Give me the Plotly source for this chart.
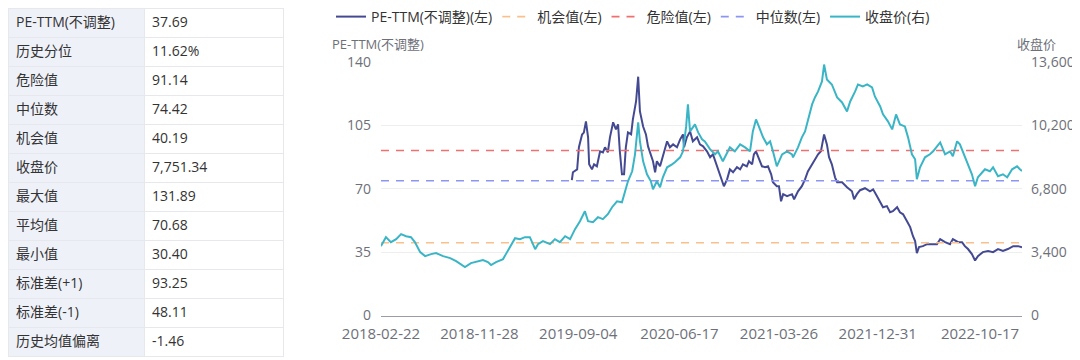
import plotly.graph_objects as go

# ---------------- data ----------------
table_labels = ["PE-TTM(不调整)", "历史分位", "危险值", "中位数", "机会值", "收盘价",
                "最大值", "平均值", "最小值", "标准差(+1)", "标准差(-1)", "历史均值偏离"]
table_values = ["37.69", "11.62%", "91.14", "74.42", "40.19", "7,751.34",
                "131.89", "70.68", "30.40", "93.25", "48.11", "-1.46"]

danger_value = 91.14
median_value = 74.42
chance_value = 40.19

x_tick_dates = ["2018-02-22", "2018-11-28", "2019-09-04", "2020-06-17",
                "2021-03-26", "2021-12-31", "2022-10-17"]
left_ticks = [0, 35, 70, 105, 140]
right_ticks = [0, 3400, 6800, 10200, 13600]

close_dates = [
    "2018-02-22", "2018-03-08", "2018-03-22", "2018-04-06", "2018-04-20", "2018-05-04",
    "2018-05-18", "2018-05-29", "2018-06-13", "2018-06-27", "2018-07-14", "2018-07-28",
    "2018-08-17", "2018-09-06", "2018-09-23", "2018-10-12", "2018-10-18", "2018-11-04",
    "2018-11-24", "2018-12-08", "2018-12-22", "2018-12-31", "2019-01-14", "2019-02-03",
    "2019-02-11", "2019-02-26", "2019-03-09", "2019-03-23", "2019-04-06", "2019-04-20",
    "2019-05-05", "2019-05-13", "2019-05-27", "2019-06-16", "2019-06-30", "2019-07-14",
    "2019-07-29", "2019-08-12", "2019-08-26", "2019-09-09", "2019-09-23", "2019-10-02",
    "2019-10-16", "2019-10-30", "2019-11-13", "2019-11-27", "2019-12-09", "2019-12-23",
    "2020-01-06", "2020-01-15", "2020-01-23", "2020-02-04", "2020-02-12", "2020-02-21",
    "2020-02-26", "2020-03-06", "2020-03-17", "2020-03-28", "2020-04-03", "2020-04-14",
    "2020-04-23", "2020-05-01", "2020-05-13", "2020-05-27", "2020-06-04", "2020-06-19",
    "2020-06-27", "2020-07-06", "2020-07-11", "2020-07-17", "2020-07-31", "2020-08-09",
    "2020-08-20", "2020-08-28", "2020-09-12", "2020-09-26", "2020-10-04", "2020-10-18",
    "2020-11-07", "2020-11-21", "2020-12-06", "2020-12-20", "2021-01-03", "2021-01-11",
    "2021-01-20", "2021-01-28", "2021-02-09", "2021-02-20", "2021-03-01", "2021-03-09",
    "2021-03-15", "2021-03-20", "2021-04-04", "2021-04-18", "2021-05-02", "2021-05-05",
    "2021-05-19", "2021-05-30", "2021-06-08", "2021-06-16", "2021-06-28", "2021-07-06",
    "2021-07-15", "2021-07-26", "2021-08-01", "2021-08-09", "2021-08-23", "2021-09-07",
    "2021-09-21", "2021-10-05", "2021-10-14", "2021-10-28", "2021-11-05", "2021-11-19",
    "2021-12-01", "2021-12-15", "2021-12-23", "2022-01-07", "2022-01-15", "2022-01-29",
    "2022-02-10", "2022-02-21", "2022-03-04", "2022-03-18", "2022-03-27", "2022-04-07",
    "2022-04-16", "2022-04-21", "2022-04-30", "2022-05-14", "2022-05-28", "2022-06-06",
    "2022-06-26", "2022-07-10", "2022-07-24", "2022-08-01", "2022-08-13", "2022-08-21",
    "2022-09-04", "2022-09-13", "2022-09-24", "2022-10-03", "2022-10-11", "2022-10-31",
    "2022-11-14", "2022-11-23", "2022-12-07", "2022-12-21", "2023-01-02", "2023-01-16",
    "2023-01-30", "2023-02-07", "2023-02-13",
]
close_values = [
    3721, 4203, 3935, 4096, 4364, 4256,
    4203, 3935, 3400, 3186, 3293, 3346,
    3186, 3079, 2918, 2650, 2597, 2811,
    2918, 2971, 2864, 2704, 2864, 3025,
    3293, 3828, 4149, 4096, 4203, 4203,
    3560, 3828, 3989, 3828, 4096, 3935,
    4256, 4096, 4631, 5060, 5595, 5060,
    5006, 5274, 5167, 5434, 5809, 6130,
    6077, 6666, 7201, 7737, 8647, 10360,
    9343, 8272, 7576, 7201, 6773, 7201,
    6880, 7415, 7951, 8111, 8218, 8486,
    8807, 10146, 11324, 9878, 10253, 9824,
    9450, 9343, 8914, 8647, 8807, 8272,
    9021, 8807, 9182, 9021, 8807, 9878,
    10521, 10146, 9557, 9182, 9343, 8807,
    8272, 8004, 8647, 8807, 8647, 8486,
    9021, 9557, 9878, 10414, 11324, 11698,
    12020, 12555, 13465, 12662, 12395, 11698,
    11430, 10949, 11484, 12020, 12395, 12287,
    12395, 12234, 11752, 11216, 10788, 10414,
    9985, 10788, 10253, 10146, 9557, 8647,
    8379, 7308, 7951, 8486, 8647, 8807,
    9289, 8647, 8807, 8540, 9343, 9182,
    8486, 8111, 7576, 6933, 7415, 7844,
    7737, 7951, 7469, 7576, 7415, 7844,
    8004, 7844, 7751.34,
]

pe_dates = [
    "2019-08-17", "2019-08-20", "2019-09-01", "2019-09-06", "2019-09-15", "2019-09-20",
    "2019-09-26", "2019-10-02", "2019-10-05", "2019-10-13", "2019-10-19", "2019-10-27",
    "2019-11-05", "2019-11-13", "2019-11-19", "2019-11-27", "2019-12-03", "2019-12-12",
    "2019-12-20", "2019-12-26", "2019-12-31", "2020-01-06", "2020-01-12", "2020-01-17",
    "2020-01-23", "2020-02-01", "2020-02-06", "2020-02-15", "2020-02-21", "2020-02-26",
    "2020-03-06", "2020-03-14", "2020-03-20", "2020-03-28", "2020-04-03", "2020-04-09",
    "2020-04-14", "2020-04-23", "2020-05-01", "2020-05-13", "2020-05-21", "2020-05-30",
    "2020-06-10", "2020-06-19", "2020-06-27", "2020-06-30", "2020-07-08", "2020-07-17",
    "2020-07-25", "2020-08-06", "2020-08-14", "2020-08-23", "2020-09-03", "2020-09-12",
    "2020-09-20", "2020-10-01", "2020-10-07", "2020-10-16", "2020-10-21", "2020-10-30",
    "2020-11-07", "2020-11-16", "2020-11-27", "2020-12-06", "2020-12-14", "2020-12-25",
    "2020-12-31", "2021-01-09", "2021-01-14", "2021-01-20", "2021-01-26", "2021-02-06",
    "2021-02-15", "2021-02-23", "2021-03-04", "2021-03-09", "2021-03-20", "2021-03-26",
    "2021-04-01", "2021-04-07", "2021-04-18", "2021-05-02", "2021-05-08", "2021-05-19",
    "2021-05-30", "2021-06-08", "2021-06-16", "2021-06-28", "2021-07-06", "2021-07-15",
    "2021-07-23", "2021-08-01", "2021-08-09", "2021-08-15", "2021-08-23", "2021-09-01",
    "2021-09-07", "2021-09-21", "2021-10-05", "2021-10-19", "2021-10-25", "2021-11-02",
    "2021-11-11", "2021-11-25", "2021-12-09", "2021-12-18", "2021-12-29", "2022-01-07",
    "2022-01-15", "2022-01-26", "2022-02-04", "2022-02-12", "2022-02-24", "2022-03-04",
    "2022-03-13", "2022-03-24", "2022-04-02", "2022-04-10", "2022-04-16", "2022-04-21",
    "2022-04-27", "2022-05-08", "2022-05-20", "2022-06-03", "2022-06-17", "2022-06-26",
    "2022-07-10", "2022-07-24", "2022-08-01", "2022-08-16", "2022-08-27", "2022-09-04",
    "2022-09-13", "2022-09-24", "2022-10-03", "2022-10-11", "2022-10-25", "2022-11-09",
    "2022-11-23", "2022-12-07", "2022-12-21", "2023-01-04", "2023-01-19", "2023-02-02",
    "2023-02-13",
]
pe_values = [
    74.7, 79.1, 80.7, 92.9, 100.0, 101.0,
    107.2, 98.4, 83.5, 80.7, 83.5, 82.4,
    90.7, 90.1, 92.9, 90.1, 98.4, 106.7,
    102.8, 105.6, 90.7, 78.0, 78.0, 92.9,
    101.1, 100.0, 108.3, 118.2, 131.89, 112.7,
    104.4, 100.0, 93.4, 89.0, 85.2, 79.1,
    85.2, 82.4, 87.9, 96.2, 92.9, 94.5,
    92.9, 97.3, 100.0, 92.9, 98.4, 101.7,
    96.2, 98.4, 94.5, 93.4, 90.7, 87.4,
    89.0, 82.4, 79.1, 74.1, 71.4, 75.2,
    80.7, 79.1, 81.9, 80.7, 83.5, 82.4,
    85.2, 83.5, 89.0, 90.7, 87.4, 82.4,
    81.9, 82.4, 78.0, 73.6, 71.4, 71.4,
    63.1, 67.0, 65.9, 67.0, 64.2, 68.6,
    71.4, 75.2, 79.6, 83.5, 86.3, 89.0,
    90.7, 100.0, 94.5, 87.4, 83.5, 76.3,
    73.6, 73.6, 70.8, 68.6, 64.2, 67.0,
    69.2, 70.3, 68.6, 69.7, 65.9, 62.6,
    59.8, 60.4, 57.0, 57.6, 59.8, 57.0,
    55.9, 52.1, 48.8, 43.8, 41.1, 34.4,
    37.8, 38.3, 39.4, 39.4, 39.4, 42.2,
    40.5, 39.4, 42.2, 40.5, 40.5, 38.3,
    36.7, 33.9, 30.40, 32.8, 35.0, 35.6,
    35.0, 36.7, 35.6, 36.7, 38.3, 38.3,
    37.69,
]

# ---------------- styles ----------------
FONT = "Open Sans, Noto Sans CJK SC, sans-serif"
AXIS_GRAY = "#6E7079"
TEXT = "#333333"
PE_COLOR = "#444A92"
CLOSE_COLOR = "#3AB5C6"
DANGER_COLOR = "#F07070"
CHANCE_COLOR = "#F9C08C"
MEDIAN_COLOR = "#8C96F2"
LABEL_BG = "#EFF1F9"
BORDER = "#E6E8EE"

W, H = 1080, 360
OFF = 8  # the page body adds an 8px margin around the figure


def px(x):
    return (x - OFF) / W


def py(y):
    return (H - (y - OFF)) / H


x_start = close_dates[0]
x_end = close_dates[-1]

fig = go.Figure()

# table
n = len(table_labels)
fig.add_trace(go.Table(
    domain=dict(x=[0, px(283)], y=[py(357), 1]),
    columnwidth=[136, 139],
    header=dict(
        values=[table_labels[0], table_values[0]],
        fill_color=[LABEL_BG, "white"],
        line_color=BORDER,
        align="left",
        height=29,
        font=dict(family=FONT, size=14, color=TEXT),
    ),
    cells=dict(
        values=[table_labels[1:], table_values[1:]],
        fill_color=[[LABEL_BG] * (n - 1), ["white"] * (n - 1)],
        line_color=BORDER,
        align="left",
        height=29,
        font=dict(family=FONT, size=14, color=TEXT),
    ),
))

# series
fig.add_trace(go.Scatter(
    x=pe_dates, y=pe_values, name="PE-TTM(不调整)(左)", mode="lines",
    line=dict(color=PE_COLOR, width=2), yaxis="y"))
fig.add_trace(go.Scatter(
    x=[x_start, x_end], y=[chance_value, chance_value], name="机会值(左)", mode="lines",
    line=dict(color=CHANCE_COLOR, width=1.6, dash="8px,7px"), yaxis="y"))
fig.add_trace(go.Scatter(
    x=[x_start, x_end], y=[danger_value, danger_value], name="危险值(左)", mode="lines",
    line=dict(color=DANGER_COLOR, width=1.6, dash="8px,7px"), yaxis="y"))
fig.add_trace(go.Scatter(
    x=[x_start, x_end], y=[median_value, median_value], name="中位数(左)", mode="lines",
    line=dict(color=MEDIAN_COLOR, width=1.6, dash="8px,7px"), yaxis="y"))
fig.add_trace(go.Scatter(
    x=close_dates, y=close_values, name="收盘价(右)", mode="lines",
    line=dict(color=CLOSE_COLOR, width=2), yaxis="y2"))

fig.update_layout(
    width=W, height=H, autosize=False,
    margin=dict(l=0, r=0, t=0, b=0, autoexpand=False),
    paper_bgcolor="white", plot_bgcolor="white",
    font=dict(family=FONT, size=14, color=TEXT),
    showlegend=True,
    legend=dict(
        orientation="h", x=px(331), y=py(17),
        xanchor="left", yanchor="middle",
        font=dict(family=FONT, size=14, color=TEXT),
        itemwidth=30, bgcolor="rgba(0,0,0,0)",
    ),
    xaxis=dict(
        type="date", domain=[px(381), px(1022)],
        range=[x_start, x_end], automargin=False,
        tickmode="array", tickvals=x_tick_dates, ticktext=x_tick_dates,
        showgrid=False, zeroline=False,
        showline=True, linecolor="#9A9DA6", linewidth=1,
        ticks="", ticklabelstandoff=4,
        tickfont=dict(family=FONT, size=15, color=AXIS_GRAY),
    ),
    yaxis=dict(
        domain=[py(315.5), py(62)], automargin=False,
        range=[0, 140], tickmode="array", tickvals=left_ticks,
        showgrid=True, gridcolor="#EEEEEE", gridwidth=1,
        zeroline=False, showline=False, ticks="",
        ticklabelstandoff=9,
        tickfont=dict(family=FONT, size=14, color=AXIS_GRAY),
    ),
    yaxis2=dict(
        overlaying="y", side="right", anchor="x", automargin=False,
        range=[0, 13600], tickmode="array", tickvals=right_ticks,
        tickformat=",d",
        showgrid=False, zeroline=False, showline=False, ticks="",
        ticklabelstandoff=8,
        tickfont=dict(family=FONT, size=14, color=AXIS_GRAY),
    ),
    annotations=[
        dict(text="PE-TTM(不调整)", xref="paper", yref="paper",
             x=px(330), y=py(44), xanchor="left", yanchor="middle",
             showarrow=False, font=dict(family=FONT, size=13, color=AXIS_GRAY)),
        dict(text="收盘价", xref="paper", yref="paper",
             x=px(1058), y=py(44), xanchor="right", yanchor="middle",
             showarrow=False, font=dict(family=FONT, size=13, color=AXIS_GRAY)),
    ],
)

fig.write_html("out.html")
